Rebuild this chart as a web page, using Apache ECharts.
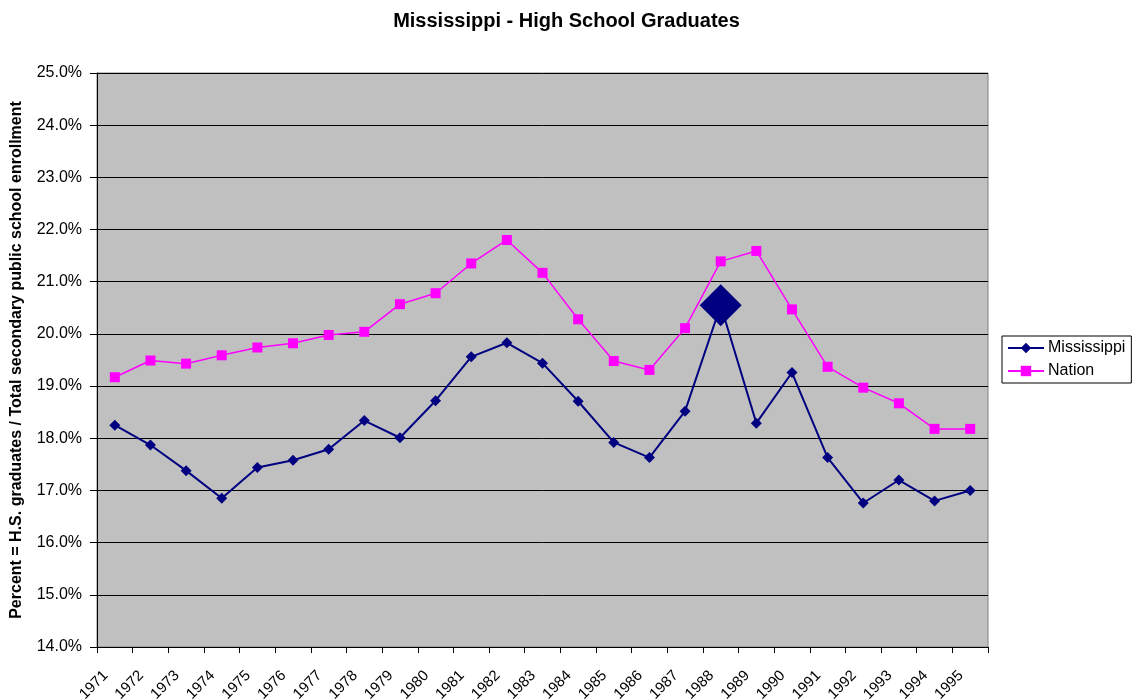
<!DOCTYPE html>
<html>
<head>
<meta charset="utf-8">
<title>Mississippi - High School Graduates</title>
<script src="https://cdn.jsdelivr.net/npm/echarts@6/dist/echarts.min.js"></script>
<style>
  html, body { margin: 0; padding: 0; background: #fff; }
  #chart { width: 1133px; height: 700px; }
</style>
</head>
<body>
<div id="chart"></div>
<script>
const years = ['1971', '1972', '1973', '1974', '1975', '1976', '1977', '1978', '1979', '1980',
  '1981', '1982', '1983', '1984', '1985', '1986', '1987', '1988', '1989', '1990',
  '1991', '1992', '1993', '1994', '1995']
const mississippi = [18.25, 17.87, 17.38, 16.85, 17.44, 17.58, 17.79, 18.34, 18.01, 18.72,
  19.56, 19.83, 19.44, 18.71, 17.92, 17.63, 18.52, 20.55, 18.29, 19.26,
  17.63, 16.76, 17.20, 16.80, 17.00]
const nation = [19.17, 19.49, 19.43, 19.59, 19.74, 19.82, 19.98, 20.04, 20.57, 20.78,
  21.35, 21.80, 21.17, 20.28, 19.48, 19.31, 20.11, 21.39, 21.59, 20.47,
  19.37, 18.97, 18.67, 18.18, 18.18]
const highlightYear = '1988'

const font = 'Liberation Sans, Arial, sans-serif'
const chart = echarts.init(document.getElementById('chart'))

chart.setOption({
  animation: false,
  backgroundColor: '#fff',
  title: {
    text: 'Mississippi - High School Graduates',
    left: 'center',
    top: 6,
    textStyle: { fontFamily: font, fontSize: 20, fontWeight: 'bold', color: '#000' }
  },
  grid: {
    left: 97,
    right: 145,
    top: 73,
    bottom: 53,
    outerBoundsMode: 'none',
    containLabel: false,
    show: true,
    backgroundColor: '#c0c0c0',
    borderColor: '#808080',
    borderWidth: 1
  },
  legend: {
    left: 1002,
    top: 336,
    orient: 'vertical',
    padding: [4, 6, 4, 5],
    itemGap: 7,
    itemWidth: 36,
    itemHeight: 13,
    borderColor: '#000',
    borderWidth: 1,
    backgroundColor: '#fff',
    textStyle: { fontFamily: font, fontSize: 16, color: '#000', padding: [0, 0, 0, -1] },
    data: ['Mississippi', 'Nation']
  },
  xAxis: {
    type: 'category',
    data: years,
    boundaryGap: true,
    axisLine: { lineStyle: { color: '#000', width: 1 } },
    axisTick: { show: true, length: 6, lineStyle: { color: '#000' } },
    axisLabel: {
      interval: 0,
      rotate: 45,
      margin: 17,
      padding: [0, 13, 0, 0],
      fontFamily: font,
      fontSize: 15,
      color: '#000'
    },
    splitLine: { show: false }
  },
  yAxis: {
    type: 'value',
    min: 14,
    max: 25,
    interval: 1,
    name: 'Percent = H.S. graduates / Total secondary public school enrollment',
    nameLocation: 'middle',
    nameGap: 72,
    nameTextStyle: { fontFamily: font, fontSize: 16, fontWeight: 'bold', color: '#000' },
    axisLine: { show: true, lineStyle: { color: '#000', width: 1 } },
    axisTick: { show: true, length: 7, lineStyle: { color: '#000' } },
    axisLabel: {
      margin: 15,
      fontFamily: font,
      fontSize: 16,
      color: '#000',
      formatter: v => v.toFixed(1) + '%'
    },
    splitLine: { show: true, lineStyle: { color: '#000', width: 1 } }
  },
  series: [{
    name: 'Mississippi',
    type: 'line',
    data: mississippi.map((v, i) => years[i] === highlightYear ? { value: v, symbolSize: 42 } : v),
    symbol: 'diamond',
    symbolSize: 11,
    showAllSymbol: true,
    lineStyle: { color: '#000080', width: 2 },
    itemStyle: { color: '#000080' },
    z: 3
  }, {
    name: 'Nation',
    type: 'line',
    data: nation,
    symbol: 'rect',
    symbolSize: 10,
    showAllSymbol: true,
    lineStyle: { color: '#ff00ff', width: 1.5 },
    itemStyle: { color: '#ff00ff' },
    z: 2
  }]
})
</script>
</body>
</html>
